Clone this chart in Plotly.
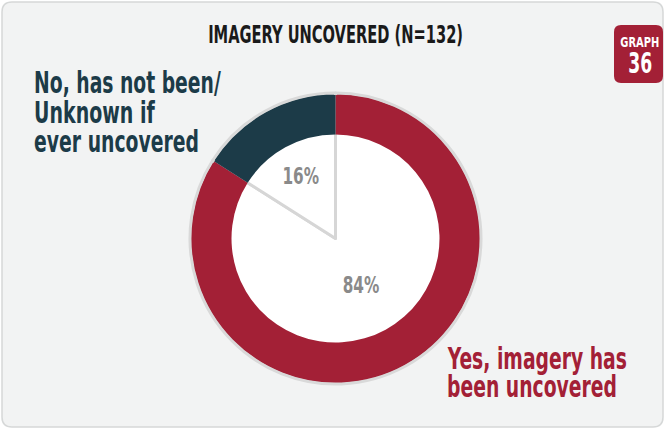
import json
import plotly.graph_objects as go

labels = ["Yes, imagery has been uncovered", "No, has not been/ Unknown if ever uncovered"]
values = [84, 16]
colors = ["#a32036", "#1c3b48"]
title_text = "IMAGERY UNCOVERED (N=132)"
graph_no = "36"
no_lines = ["No, has not been/", "Unknown if", "ever uncovered"]
yes_lines = ["Yes, imagery has", "been uncovered"]

W, H = 665, 429
cx, cy = 335.5, 238.5   # donut centre in px (from top)
font_c = "DejaVu Sans Condensed"


def dom(r):
    # pie domain (paper coords) for a circle of radius r px around the centre
    yb = H - cy
    return dict(x=[(cx - r) / W, (cx + r) / W], y=[(yb - r) / H, (yb + r) / H])


fig = go.Figure()

# outer gray rim + colour
fig.add_trace(go.Pie(
    labels=labels, values=values, sort=False, direction="clockwise", rotation=0,
    marker=dict(colors=colors, line=dict(color="#d9d9d9", width=3)),
    textinfo="none", hoverinfo="skip", domain=dom(145.5), showlegend=False,
))
# white inner pie with gray dividers and percentages
fig.add_trace(go.Pie(
    labels=labels, values=values, sort=False, direction="clockwise", rotation=0,
    marker=dict(colors=["white", "white"], line=dict(color="#d6d6d6", width=3)),
    texttemplate="%{percent:.0%}", textposition="inside", insidetextorientation="horizontal",
    textfont=dict(family=font_c, size=23, color="#8a8a8a", weight="bold"),
    hoverinfo="skip", domain=dom(106.5), showlegend=False,
))
# coloured ring on top (hides inner arc of the white pie)
fig.add_trace(go.Pie(
    labels=labels, values=values, sort=False, direction="clockwise", rotation=0,
    hole=104 / 143.5,
    marker=dict(colors=colors, line=dict(width=0)),
    textinfo="none", hoverinfo="skip", domain=dom(143.5), showlegend=False,
))


def rrect(x0, y0, x1, y1, r):
    # rounded rectangle path in pixel coords (y from top) -> paper coords
    def p(x, y):
        return f"{x / W},{1 - y / H}"
    return (f"M {p(x0 + r, y0)} L {p(x1 - r, y0)} Q {p(x1, y0)} {p(x1, y0 + r)} "
            f"L {p(x1, y1 - r)} Q {p(x1, y1)} {p(x1 - r, y1)} L {p(x0 + r, y1)} "
            f"Q {p(x0, y1)} {p(x0, y1 - r)} L {p(x0, y0 + r)} Q {p(x0, y0)} {p(x0 + r, y0)} Z")


annots = []
fit = {}   # annotation index -> (target width px, transform origin)


def txt(s, x, y, size, color, anchor="center", width=None):
    fit[len(annots)] = (width, "0%" if anchor == "left" else "50%")
    annots.append(dict(text=s, x=x / W, y=1 - y / H, xref="paper", yref="paper",
                       xanchor=anchor, yanchor="middle", showarrow=False,
                       font=dict(family=font_c, size=size, color=color, weight="bold")))


txt(title_text, 335, 34.5, 25, "#1a1a1a", width=255)
txt("GRAPH", 640, 42, 14, "white", width=39)
txt(graph_no, 639.5, 63, 29, "white", width=24)
for s, y, w in zip(no_lines, [83, 113.5, 142], [187, 121, 165]):
    txt(s, 32, y, 29.5, colors[1], "left", w)
for s, y, w in zip(yes_lines, [358.5, 387], [180, 170]):
    txt(s, 445, y, 29.5, colors[0], "left", w)

fig.update_layout(
    width=W, height=H, margin=dict(l=0, r=0, t=0, b=0),
    paper_bgcolor="white",
    shapes=[
        dict(type="path", xref="paper", yref="paper", path=rrect(2, 2, 663, 427, 10),
             fillcolor="#f2f3f3", line=dict(color="#d6d8d8", width=1.5), layer="below"),
        dict(type="path", xref="paper", yref="paper", path=rrect(614, 25, 663, 83, 7),
             fillcolor="#a32036", line=dict(width=0), layer="below"),
    ],
    annotations=annots,
)

# the reference uses a condensed face; squeeze the text horizontally to match
post = """
document.body.style.margin='0';
var gd=document.getElementById('{plot_id}');
var fit=""" + json.dumps(fit) + """;
function squeeze(){
  gd.querySelectorAll('g.annotation').forEach(function(g){
    var f=fit[g.getAttribute('data-index')]; if(!f) return;
    var t=g.querySelector('text.annotation-text'); if(!t) return;
    var w=t.getBBox().width; if(!w) return;
    t.style.transformBox='fill-box';
    t.style.transformOrigin=f[1]+' 50%';
    t.style.transform='scaleX('+(f[0]/w)+')';
  });
  gd.querySelectorAll('g.slicetext').forEach(function(g){
    g.style.transformBox='fill-box';
    g.style.transformOrigin='50% 50%';
    g.style.transform='scaleX(0.74)';
  });
}
squeeze();
gd.on('plotly_afterplot', squeeze);
"""

fig.write_html("out.html", config={"displayModeBar": False}, post_script=post)
